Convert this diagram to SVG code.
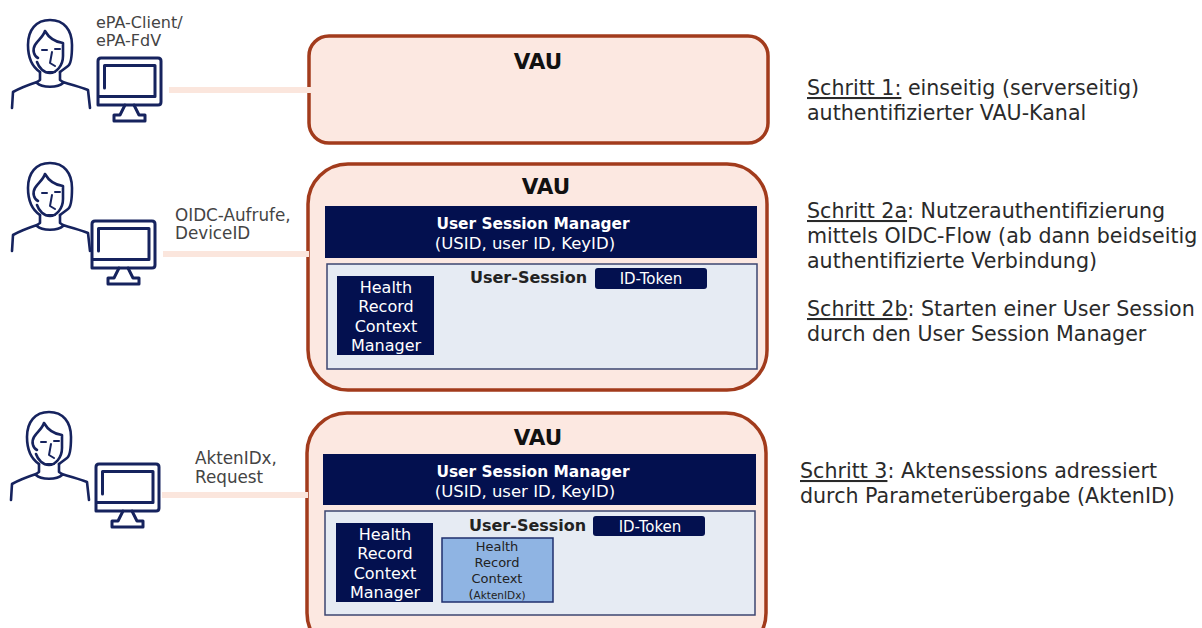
<svg xmlns="http://www.w3.org/2000/svg" width="1202" height="628" viewBox="0 0 1202 628">
<style>
text{font-family:"DejaVu Sans",Verdana,sans-serif;fill:#222}
.vau{fill:#fce8e1;stroke:#a23b1c;stroke-width:3.5}
.title{font-size:21.5px;font-weight:700;text-anchor:middle;fill:#111}
.navy{fill:#03104f}
.w{fill:#fff;text-anchor:middle}
.sess{fill:#e6ebf3;stroke:#3c4670;stroke-width:1.5}
.ic{fill:none;stroke:#16235e;stroke-width:2.6;stroke-linecap:round;stroke-linejoin:round}
.mon{stroke-width:3}
.lbl{font-size:16.8px;fill:#444}
.step{font-size:20.6px;fill:#2a2a2a}
.conn{stroke:#fbe6dd;stroke-width:6;fill:none}
</style>
<defs>
<g id="person" class="ic">
<path d="M40,72C31,66 28,55 28,45C28,30 36,20 50,20C64,20 72,30 72,45C72,56 71,64 68,66L60,72"/>
<path d="M45,31C43,37 38,40 35,45C32,50 34,56 38,58M45,31C49,38 55,42 63,43V56C63,66 56,73 50,73C44,73 39,68 37,62"/>
<path d="M42,50H47M55,49H60M52,52L50,63L55,66M48,72H55" stroke-width="2"/>
<path d="M40,72V80L37,82C28,85 20,88 13,92L12,108M60,72V80L63,82C72,85 80,87 88,90L90,108M37,83C42,88 58,88 63,83"/>
</g>
<g id="monitor" class="ic mon">
<path d="M98,105V61Q98,58 101,58H158Q161,58 161,61V102Q161,105 158,105H98"/>
<path d="M104.500,88V65.500H155V96.500H99"/>
<path d="M125,105L120,115H114V121H145V115H139L134,105"/>
</g>
</defs>
<g id="user-1"><use href="#person"/><use href="#monitor"/>
<text class="lbl" style="font-size:16px"><tspan x="96" y="28">ePA-Client/</tspan><tspan x="96" y="46">ePA-FdV</tspan></text></g>
<g id="user-2"><use href="#person" y="143"/><use href="#monitor" x="-6" y="163"/>
<text class="lbl"><tspan x="175" y="221">OIDC-Aufrufe,</tspan><tspan x="175" y="239">DeviceID</tspan></text></g>
<g id="user-3"><use href="#person" x="-1" y="392"/><use href="#monitor" x="-2" y="406"/>
<text class="lbl"><tspan x="195" y="464">AktenIDx,</tspan><tspan x="195" y="483">Request</tspan></text></g>
<g id="vau-1"><rect class="vau" x="309" y="36" width="459" height="107" rx="20"/>
<text class="title" x="538" y="69">VAU</text></g>
<g id="vau-2"><rect class="vau" x="308" y="164" width="459" height="226" rx="40"/>
<text class="title" x="546" y="194">VAU</text>
<rect class="navy" x="325" y="206" width="432" height="52"/>
<text class="w" font-size="15.400" font-weight="700" x="533" y="229">User Session Manager</text>
<text class="w" font-size="16.500" x="525" y="249">(USID, user ID, KeyID)</text>
<rect class="sess" x="327" y="264" width="430" height="105"/>
<text font-size="16" font-weight="700" x="470" y="283" fill="#111">User-Session</text>
<rect class="navy" x="595" y="268" width="112" height="21" rx="3"/>
<text class="w" font-size="15" x="651" y="284">ID-Token</text>
<rect class="navy" x="337" y="276" width="97" height="79"/>
<text class="w" font-size="16"><tspan x="386" y="293">Health</tspan><tspan x="386" y="312">Record</tspan><tspan x="386" y="332">Context</tspan><tspan x="386" y="351">Manager</tspan></text></g>
<g id="vau-3"><rect class="vau" x="307" y="413" width="459" height="240" rx="40"/>
<text class="title" x="538" y="445">VAU</text>
<rect class="navy" x="323" y="454" width="433" height="51"/>
<text class="w" font-size="15.400" font-weight="700" x="533" y="477">User Session Manager</text>
<text class="w" font-size="16.500" x="525" y="497">(USID, user ID, KeyID)</text>
<rect class="sess" x="325" y="511" width="430" height="104"/>
<text font-size="16" font-weight="700" x="469" y="531" fill="#111">User-Session</text>
<rect class="navy" x="593" y="516" width="112" height="20" rx="3"/>
<text class="w" font-size="15" x="650" y="532">ID-Token</text>
<rect class="navy" x="336" y="523" width="97" height="79"/>
<text class="w" font-size="16"><tspan x="385" y="540">Health</tspan><tspan x="385" y="559">Record</tspan><tspan x="385" y="579">Context</tspan><tspan x="385" y="598">Manager</tspan></text>
<rect x="442" y="538" width="111" height="64" fill="#8fb4e3" stroke="#1f2f6e" stroke-width="1.500"/>
<text font-size="13" text-anchor="middle" fill="#1a1f3a"><tspan x="497" y="551">Health</tspan><tspan x="497" y="567">Record</tspan><tspan x="497" y="583">Context</tspan></text>
<text text-anchor="middle" x="497" y="599" fill="#1a1f3a" font-size="10.500"><tspan font-size="13">(</tspan>AktenIDx)</text></g>
<g id="connectors">
<path class="conn" d="M169,90H311"/>
<path class="conn" d="M163,254H309"/>
<path class="conn" d="M162,495H308"/>
</g>
<g id="notes">
<text class="step"><tspan x="807" y="95"><tspan text-decoration="underline">Schritt 1:</tspan> einseitig (serverseitig)</tspan><tspan x="807" y="120">authentifizierter VAU-Kanal</tspan></text>
<text class="step"><tspan x="807" y="218"><tspan text-decoration="underline">Schritt 2a</tspan>: Nutzerauthentifizierung</tspan><tspan x="807" y="243">mittels OIDC-Flow (ab dann beidseitig</tspan><tspan x="807" y="268">authentifizierte Verbindung)</tspan></text>
<text class="step"><tspan x="807" y="316"><tspan text-decoration="underline">Schritt 2b</tspan>: Starten einer User Session</tspan><tspan x="807" y="341">durch den User Session Manager</tspan></text>
<text class="step"><tspan x="800" y="478"><tspan text-decoration="underline">Schritt 3</tspan>: Aktensessions adressiert</tspan><tspan x="800" y="503">durch Parameterübergabe (AktenID)</tspan></text>
</g>
</svg>
